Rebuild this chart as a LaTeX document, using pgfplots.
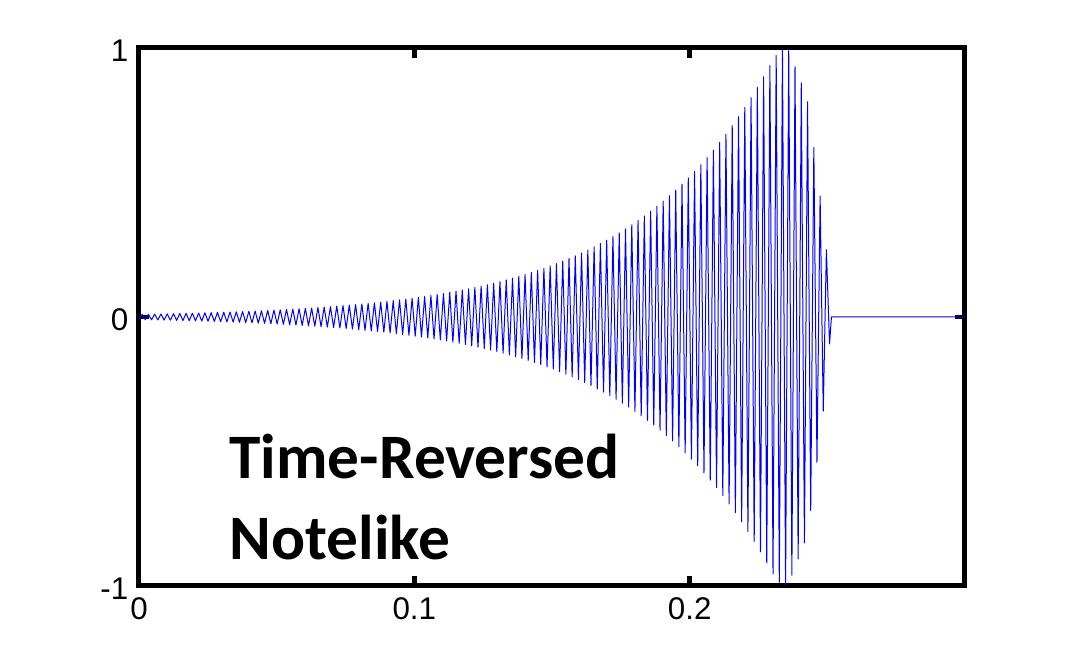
\documentclass[border=0pt]{standalone}
\usepackage{fontspec}
\setmainfont{Liberation Sans}
\newfontfamily\carlito{Carlito}
\newcommand{\tl}[1]{\hbox{\fontsize{23.5}{28}\selectfont #1}}
\usepackage{pgfplots}
\pgfplotsset{compat=1.18}
\begin{document}
\begin{tikzpicture}
\begin{axis}[
  at={(0,0)}, anchor=south west,
  scale only axis, width=619.5pt, height=403.5pt,
  xmin=0, xmax=0.3, ymin=-1, ymax=1,
  axis line style={line width=3.75pt, line cap=rect},
  xtick={0,0.1,0.2}, xticklabels={{\tl{0}},{\tl{0.1}},{\tl{0.2}}},
  ytick={-1,0,1}, yticklabels={{\tl{-1}},{\tl{0}},{\tl{1}}},
  tick align=inside,
  major tick length=7.5pt,
  tick style={line width=3.5pt, black},
  xticklabel style={yshift=-5.5pt},
  yticklabel style={xshift=-4.5pt, yshift=-2pt},
  /pgf/number format/assume math mode=true,
]
\addplot[blue, line width=0.75pt, line join=round] coordinates {
(0,-0.0096) (0.00114,0.0098) (0.00228,-0.0100) (0.00342,0.0102) (0.00456,-0.0105) (0.0057,0.0107) (0.00684,-0.0110) (0.00798,0.0112) (0.00912,-0.0115) (0.01026,0.0117)
(0.0114,-0.0120) (0.01254,0.0123) (0.01368,-0.0126) (0.01482,0.0129) (0.01596,-0.0132) (0.0171,0.0135) (0.01824,-0.0138) (0.01938,0.0141) (0.02052,-0.0144) (0.02166,0.0147)
(0.0228,-0.0151) (0.02394,0.0154) (0.02508,-0.0158) (0.02622,0.0161) (0.02736,-0.0165) (0.0285,0.0169) (0.02964,-0.0173) (0.03078,0.0177) (0.03192,-0.0181) (0.03306,0.0185)
(0.0342,-0.0190) (0.03534,0.0194) (0.03648,-0.0198) (0.03762,0.0203) (0.03876,-0.0208) (0.0399,0.0212) (0.04104,-0.0217) (0.04218,0.0222) (0.04332,-0.0227) (0.04446,0.0233)
(0.0456,-0.0238) (0.04674,0.0244) (0.04788,-0.0249) (0.04902,0.0255) (0.05016,-0.0261) (0.0513,0.0267) (0.05244,-0.0273) (0.05358,0.0279) (0.05472,-0.0286) (0.05586,0.0292)
(0.057,-0.0299) (0.05814,0.0306) (0.05928,-0.0313) (0.06042,0.0320) (0.06156,-0.0328) (0.0627,0.0335) (0.06384,-0.0343) (0.06498,0.0351) (0.06612,-0.0359) (0.06726,0.0367)
(0.0684,-0.0376) (0.06954,0.0384) (0.07068,-0.0393) (0.07182,0.0402) (0.07296,-0.0411) (0.0741,0.0421) (0.07524,-0.0431) (0.07638,0.0441) (0.07752,-0.0451) (0.07866,0.0461)
(0.0798,-0.0472) (0.08094,0.0483) (0.08208,-0.0494) (0.08322,0.0505) (0.08436,-0.0517) (0.0855,0.0529) (0.08664,-0.0541) (0.08778,0.0553) (0.08892,-0.0566) (0.09006,0.0579)
(0.0912,-0.0593) (0.09234,0.0606) (0.09348,-0.0620) (0.09462,0.0635) (0.09576,-0.0649) (0.0969,0.0664) (0.09804,-0.0679) (0.09918,0.0695) (0.10032,-0.0711) (0.10146,0.0728)
(0.1026,-0.0744) (0.10374,0.0762) (0.10488,-0.0779) (0.10602,0.0797) (0.10716,-0.0815) (0.1083,0.0834) (0.10944,-0.0854) (0.11058,0.0873) (0.11172,-0.0893) (0.11286,0.0914)
(0.114,-0.0935) (0.11514,0.0957) (0.11628,-0.0979) (0.11742,0.1001) (0.11856,-0.1024) (0.1197,0.1048) (0.12084,-0.1072) (0.12198,0.1097) (0.12312,-0.1122) (0.12426,0.1148)
(0.1254,-0.1174) (0.12654,0.1201) (0.12768,-0.1229) (0.12882,0.1257) (0.12996,-0.1286) (0.1311,0.1316) (0.13224,-0.1346) (0.13338,0.1377) (0.13452,-0.1409) (0.13566,0.1441)
(0.1368,-0.1475) (0.13794,0.1509) (0.13908,-0.1544) (0.14022,0.1579) (0.14136,-0.1616) (0.1425,0.1653) (0.14364,-0.1691) (0.14478,0.1730) (0.14592,-0.1770) (0.14706,0.1811)
(0.1482,-0.1853) (0.14934,0.1896) (0.15048,-0.1939) (0.15162,0.1984) (0.15276,-0.2030) (0.1539,0.2077) (0.15504,-0.2125) (0.15618,0.2174) (0.15732,-0.2224) (0.15846,0.2275)
(0.1596,-0.2327) (0.16074,0.2381) (0.16188,-0.2435) (0.16302,0.2492) (0.16416,-0.2549) (0.1653,0.2608) (0.16644,-0.2668) (0.16758,0.2730) (0.16872,-0.2793) (0.16986,0.2857)
(0.171,-0.2923) (0.17214,0.2990) (0.17328,-0.3059) (0.17442,0.3130) (0.17556,-0.3202) (0.1767,0.3276) (0.17784,-0.3351) (0.17898,0.3429) (0.18012,-0.3508) (0.18126,0.3589)
(0.1824,-0.3672) (0.18354,0.3757) (0.18468,-0.3843) (0.18582,0.3932) (0.18696,-0.4023) (0.1881,0.4115) (0.18924,-0.4210) (0.19038,0.4307) (0.19152,-0.4407) (0.19266,0.4508)
(0.1938,-0.4612) (0.19494,0.4718) (0.19608,-0.4827) (0.19722,0.4939) (0.19836,-0.5052) (0.1995,0.5169) (0.20064,-0.5288) (0.20178,0.5410) (0.20292,-0.5535) (0.20406,0.5662)
(0.2052,-0.5793) (0.20634,0.5927) (0.20748,-0.6063) (0.20862,0.6203) (0.20976,-0.6346) (0.2109,0.6492) (0.21204,-0.6642) (0.21318,0.6795) (0.21432,-0.6952) (0.21546,0.7112)
(0.2166,-0.7277) (0.21774,0.7445) (0.21888,-0.7616) (0.22002,0.7792) (0.22116,-0.7972) (0.2223,0.8155) (0.22344,-0.8344) (0.22458,0.8536) (0.22572,-0.8733) (0.22686,0.8934)
(0.228,-0.914) (0.22914,0.935) (0.23028,-0.955) (0.23142,0.972) (0.23256,-0.986) (0.2337,0.996) (0.23484,-1.0) (0.23598,0.99) (0.23712,-0.96) (0.23826,0.93)
(0.2394,-0.90) (0.24054,0.87) (0.24168,-0.84) (0.24282,0.80) (0.24396,-0.72) (0.2451,0.63) (0.24624,-0.54) (0.24738,0.45) (0.24852,-0.35) (0.24966,0.25)
(0.2508,-0.10) (0.2515,0) (0.3,0)
};
\node[anchor=base west, inner sep=0, font=\carlito\bfseries\fontsize{47.5}{57}\selectfont] at (axis cs:0.0328,-0.602) {Time-Reversed};
\node[anchor=base west, inner sep=0, font=\carlito\bfseries\fontsize{47.5}{57}\selectfont] at (axis cs:0.0328,-0.903) {Notelike};
\end{axis}
\pgfresetboundingbox
\path[use as bounding box] (-104.25pt,-55.5pt) rectangle (694.5pt,439.5pt);
\end{tikzpicture}
\end{document}
